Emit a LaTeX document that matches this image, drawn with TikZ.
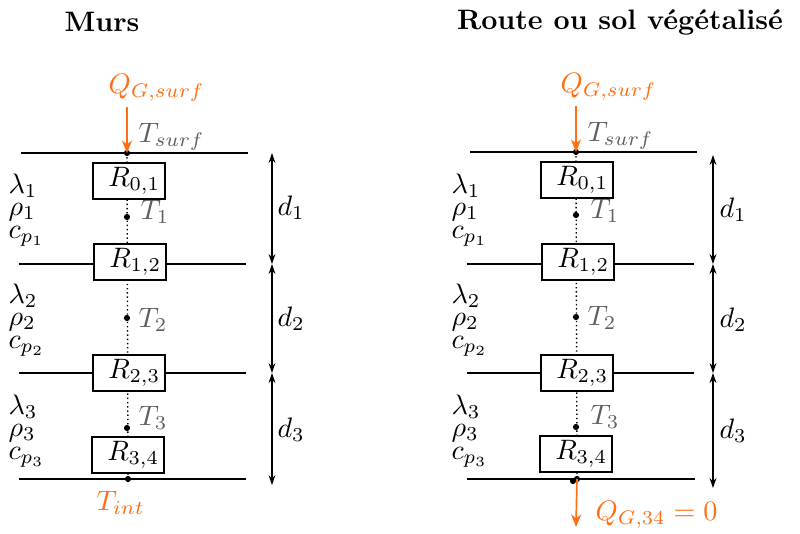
\documentclass[tikz,border=0pt]{standalone}
\usetikzlibrary{arrows.meta}
\definecolor{qorange}{RGB}{255,110,20}
\definecolor{tgray}{RGB}{95,95,95}
\begin{document}
\begin{tikzpicture}[x=0.0125cm,y=-0.0125cm,
  layer/.style={line width=0.5pt},
  rbox/.style={draw,line width=0.5pt,fill=white,text width=0.78cm,align=right,inner xsep=0.6mm,minimum height=0.45cm,inner ysep=0pt},
  dotline/.style={densely dotted,line width=0.5pt},
  dotpt/.style={circle,fill=black,inner sep=0pt,minimum size=2.2pt},
  dimarrow/.style={{Stealth[length=3.5pt,width=2.4pt]}-{Stealth[length=3.5pt,width=2.4pt]},line width=0.5pt},
  flux/.style={-{Stealth[length=4.5pt,width=3.6pt]},qorange,line width=0.6pt},
  tlab/.style={anchor=base west,text=tgray,inner sep=0pt},
  prop/.style={anchor=base west,inner sep=0pt},
  props/.style={anchor=north west,inner sep=0pt,align=left},
  title/.style={font=\bfseries}]
\useasboundingbox (0,0) rectangle (800,533);

% ---------- titles ----------
\node[title] (t1) at (102,22) {Murs};
\node[title] (t2) at (620,22) {Route ou sol végétalisé};

% ---------- left: Murs ----------
\coordinate (Ltop) at (127,153);
\coordinate (Lbot) at (128,479);
\coordinate (LT1) at (127,217);
\coordinate (LT2) at (127,318);
\coordinate (LT3) at (127,428);
\coordinate (LQs) at (127,107);
\draw[dotline] (Ltop) -- (Lbot);
\draw[layer] (21,153) -- (248,153);
\draw[layer] (19,264) -- (246,264);
\draw[layer] (19,373) -- (246,373);
\draw[layer] (19,479) -- (246,479);
\node[rbox] (LR01) at (129,181) {$R_{0,1}$};
\node[rbox] (LR12) at (130,262) {$R_{1,2}$};
\node[rbox] (LR23) at (129,373) {$R_{2,3}$};
\node[rbox] (LR34) at (128,455) {$R_{3,4}$};
\node[dotpt] (Ld0) at (Ltop) {};
\node[dotpt] (Ld1) at (LT1) {};
\node[dotpt] (Ld2) at (LT2) {};
\node[dotpt] (Ld3) at (LT3) {};
\node[dotpt] (Ld4) at (Lbot) {};
\node[anchor=base west,text=qorange,inner sep=0pt] (LQ) at (108,93) {$Q_{G,surf}$};
\draw[flux] (LQs) -- (Ld0.center);
\node[tlab] (LTs) at (138,142) {$T_{surf}$};
\node[tlab] (LTl1) at (140,219) {$T_1$};
\node[tlab] (LTl2) at (138,327) {$T_2$};
\node[tlab] (LTl3) at (138,425) {$T_3$};
\node[anchor=base west,text=qorange,inner sep=0pt] (LTi) at (96,510) {$T_{int}$};
\node[props] (Lp1) at (8,173) {$\lambda_1$\\[-4pt]$\rho_1$\\[-4pt]$c_{p_1}$};
\node[props] (Lp2) at (8,283) {$\lambda_2$\\[-4pt]$\rho_2$\\[-4pt]$c_{p_2}$};
\node[props] (Lp3) at (8,394) {$\lambda_3$\\[-4pt]$\rho_3$\\[-4pt]$c_{p_3}$};
\coordinate (La0) at (272,153);
\coordinate (La1) at (272,264);
\coordinate (La2) at (272,373);
\coordinate (La3) at (272,485);
\draw[dimarrow] (La0) -- (La1);
\draw[dimarrow] (La1) -- (La2);
\draw[dimarrow] (La2) -- (La3);
\node[prop] (Ld1l) at (277,215) {$d_1$};
\node[prop] (Ld2l) at (277,326) {$d_2$};
\node[prop] (Ld3l) at (277,437) {$d_3$};

% ---------- right: Route ----------
\coordinate (Rtop) at (576,152);
\coordinate (Rbot) at (577,479);
\coordinate (Rbot2) at (573,481);
\coordinate (RT1) at (576,215);
\coordinate (RT2) at (576,317);
\coordinate (RT3) at (576,427);
\coordinate (RQs) at (576,106);
\coordinate (RQe) at (576,527);
\draw[dotline] (Rtop) -- (Rbot);
\draw[layer] (470,152) -- (697,152);
\draw[layer] (467,264) -- (694,264);
\draw[layer] (467,373) -- (694,373);
\draw[layer] (467,479) -- (695,479);
\node[rbox] (RR01) at (577,180) {$R_{0,1}$};
\node[rbox] (RR12) at (578,262) {$R_{1,2}$};
\node[rbox] (RR23) at (577,373) {$R_{2,3}$};
\node[rbox] (RR34) at (576,454) {$R_{3,4}$};
\node[dotpt] (Rd0) at (Rtop) {};
\node[dotpt] (Rd1) at (RT1) {};
\node[dotpt] (Rd2) at (RT2) {};
\node[dotpt] (Rd3) at (RT3) {};
\node[dotpt] (Rd4) at (Rbot) {};
\node[dotpt] (Rd5) at (Rbot2) {};
\node[anchor=base west,text=qorange,inner sep=0pt] (RQ) at (560,92) {$Q_{G,surf}$};
\draw[flux] (RQs) -- (Rd0.center);
\draw[flux] (Rd4.center) -- (RQe);
\node[anchor=base west,text=qorange,inner sep=0pt] (RQ34) at (595,520) {$Q_{G,34}=0$};
\node[tlab] (RTs) at (587,141) {$T_{surf}$};
\node[tlab] (RTl1) at (590,218) {$T_1$};
\node[tlab] (RTl2) at (587,325) {$T_2$};
\node[tlab] (RTl3) at (590,424) {$T_3$};
\node[props] (Rp1) at (451,173) {$\lambda_1$\\[-4pt]$\rho_1$\\[-4pt]$c_{p_1}$};
\node[props] (Rp2) at (451,283) {$\lambda_2$\\[-4pt]$\rho_2$\\[-4pt]$c_{p_2}$};
\node[props] (Rp3) at (451,394) {$\lambda_3$\\[-4pt]$\rho_3$\\[-4pt]$c_{p_3}$};
\coordinate (Ra0) at (713,155);
\coordinate (Ra1) at (713,264);
\coordinate (Ra2) at (713,373);
\coordinate (Ra3) at (713,488);
\draw[dimarrow] (Ra0) -- (Ra1);
\draw[dimarrow] (Ra1) -- (Ra2);
\draw[dimarrow] (Ra2) -- (Ra3);
\node[prop] (Rd1l) at (719,217) {$d_1$};
\node[prop] (Rd2l) at (719,327) {$d_2$};
\node[prop] (Rd3l) at (719,438) {$d_3$};
\end{tikzpicture}
\end{document}
